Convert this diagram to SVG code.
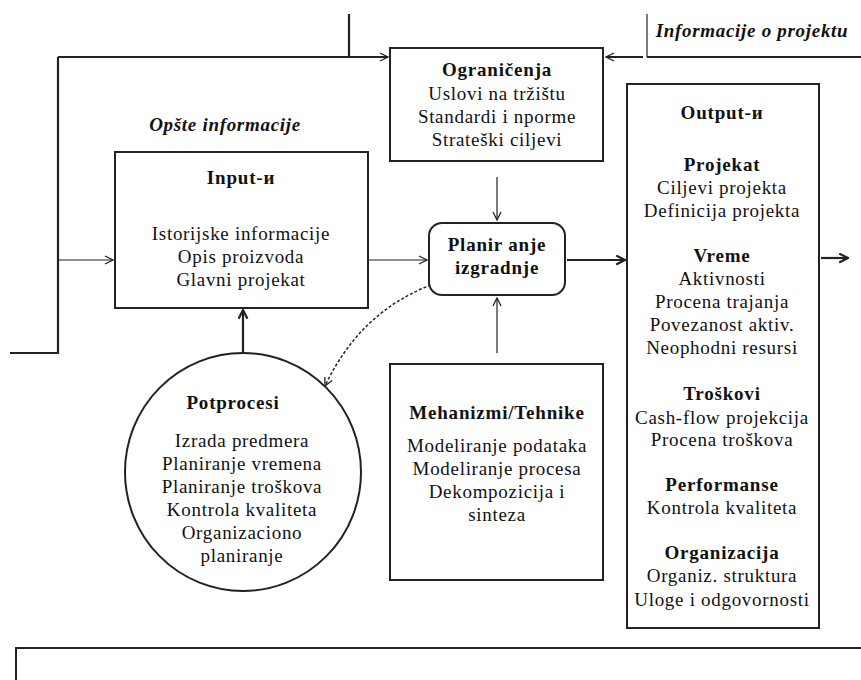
<svg xmlns="http://www.w3.org/2000/svg" width="861" height="680" viewBox="0 0 861 680">
<style>
text{font-family:"Liberation Serif","Times New Roman",serif;fill:#111;text-anchor:middle;letter-spacing:0.7px}
.t{font-size:19px}
.b{font-size:19px;font-weight:bold;letter-spacing:0.8px}
.bi{font-size:19px;font-weight:bold;font-style:italic}
.box{fill:#fff;stroke:#222;stroke-width:2}
.ln{fill:none;stroke:#222;stroke-width:1.2}
.lm{fill:none;stroke:#222;stroke-width:1.8}
.lt{fill:none;stroke:#222;stroke-width:2.2}
</style>
<defs>
<marker id="ah" viewBox="0 0 10 10" refX="9" refY="5" markerWidth="10" markerHeight="10" markerUnits="userSpaceOnUse" orient="auto">
<path d="M1,1 L9,5 L1,9" fill="none" stroke="#222" stroke-width="1.3"/>
</marker>
<marker id="ahb" viewBox="0 0 10 10" refX="9" refY="5" markerWidth="11" markerHeight="11" markerUnits="userSpaceOnUse" orient="auto">
<path d="M1,1 L9,5 L1,9" fill="none" stroke="#222" stroke-width="2"/>
</marker>
</defs>

<g id="connectors">
<path class="lt" d="M349,14 V57"/>
<path class="lm" d="M58,57 H388" marker-end="url(#ah)"/>
<path class="lt" d="M58,57 V353 H10"/>
<path class="ln" d="M58,260 H113" marker-end="url(#ah)"/>
<path class="ln" d="M647,14 V57"/>
<path class="lm" d="M647,57 H861"/>
<path class="lm" d="M643,57 H606" marker-end="url(#ah)"/>
<path class="ln" d="M368,260 H427" marker-end="url(#ah)"/>
<path class="lt" d="M567,260 H625" marker-end="url(#ahb)"/>
<path class="lt" d="M821,258 H848" marker-end="url(#ahb)"/>
<path class="ln" d="M497,177 V220" marker-end="url(#ah)"/>
<path class="ln" d="M497,353 V298" marker-end="url(#ah)"/>
<path class="lt" d="M243,353 V310" marker-end="url(#ahb)"/>
<path d="M431,285 Q360,312 325,386" fill="none" stroke="#222" stroke-width="1.5" stroke-dasharray="3,2" marker-end="url(#ah)"/>
</g>

<g id="label-opste"><text class="bi" x="225" y="131">Opšte informacije</text></g>
<g id="label-info"><text class="bi" x="752" y="37">Informacije o projektu</text></g>

<g id="ogranicenja">
<rect class="box" x="390" y="48" width="213" height="113"/>
<text class="b" x="497" y="76">Ograničenja</text>
<text class="t" x="497" y="100">Uslovi na tržištu</text>
<text class="t" x="497" y="123">Standardi i nporme</text>
<text class="t" x="497" y="146">Strateški ciljevi</text>
</g>

<g id="input">
<rect class="box" x="115" y="152" width="253" height="156"/>
<text class="b" x="241" y="184">Input-и</text>
<text class="t" x="241" y="240">Istorijske informacije</text>
<text class="t" x="241" y="263">Opis proizvoda</text>
<text class="t" x="241" y="286">Glavni projekat</text>
</g>

<g id="planiranje">
<rect class="box" x="429" y="223" width="136" height="72" rx="13"/>
<text class="b" x="497" y="251">Planir anje</text>
<text class="b" x="497" y="274">izgradnje</text>
</g>

<g id="output">
<rect class="box" x="627" y="84" width="192" height="544"/>
<text class="b" x="722" y="119">Output-и</text>
<text class="b" x="722" y="171">Projekat</text>
<text class="t" x="722" y="194">Ciljevi projekta</text>
<text class="t" x="722" y="217">Definicija projekta</text>
<text class="b" x="722" y="262">Vreme</text>
<text class="t" x="722" y="285">Aktivnosti</text>
<text class="t" x="722" y="308">Procena trajanja</text>
<text class="t" x="722" y="331">Povezanost aktiv.</text>
<text class="t" x="722" y="354">Neophodni resursi</text>
<text class="b" x="722" y="400">Troškovi</text>
<text class="t" x="722" y="424">Cash-flow projekcija</text>
<text class="t" x="722" y="446">Procena troškova</text>
<text class="b" x="722" y="491">Performanse</text>
<text class="t" x="722" y="514">Kontrola kvaliteta</text>
<text class="b" x="722" y="559">Organizacija</text>
<text class="t" x="722" y="582">Organiz. struktura</text>
<text class="t" x="722" y="606">Uloge i odgovornosti</text>
</g>

<g id="potprocesi">
<ellipse class="box" cx="243" cy="472" rx="118" ry="119"/>
<text class="b" x="233" y="409">Potprocesi</text>
<text class="t" x="242" y="447">Izrada predmera</text>
<text class="t" x="242" y="470">Planiranje vremena</text>
<text class="t" x="242" y="493">Planiranje troškova</text>
<text class="t" x="242" y="516">Kontrola kvaliteta</text>
<text class="t" x="242" y="539">Organizaciono</text>
<text class="t" x="242" y="562">planiranje</text>
</g>

<g id="mehanizmi">
<rect class="box" x="390" y="364" width="213" height="216"/>
<text class="b" x="497" y="419">Mehanizmi/Tehnike</text>
<text class="t" x="497" y="452">Modeliranje podataka</text>
<text class="t" x="497" y="475">Modeliranje procesa</text>
<text class="t" x="497" y="498">Dekompozicija i</text>
<text class="t" x="497" y="521">sinteza</text>
</g>

<g id="bottom-box">
<path class="box" d="M16,682 V648 H863 V682"/>
</g>
</svg>
